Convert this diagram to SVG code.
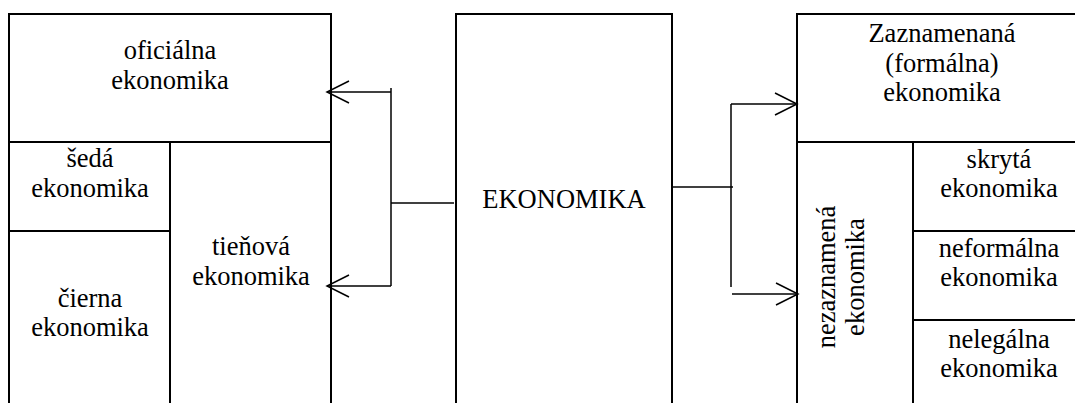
<svg xmlns="http://www.w3.org/2000/svg" width="1075" height="403" viewBox="0 0 1075 403">
<style>
.box{fill:none;stroke:#000;stroke-width:2}
.ln{fill:none;stroke:#000;stroke-width:2}
.cn{fill:none;stroke:#000;stroke-width:1.5}
text{font-family:"Liberation Serif","Times New Roman",serif;font-size:26.5px;fill:#000;text-anchor:middle}
</style>
<defs>
<marker id="arr" markerUnits="userSpaceOnUse" markerWidth="26" markerHeight="28" refX="23" refY="13" orient="auto" viewBox="0 0 26 28">
<path d="M1,2 L23,13 L1,24" fill="none" stroke="#000" stroke-width="1.5"/>
</marker>
</defs>
<rect width="1075" height="403" fill="#fff"/>
<g id="oficialna">
<path class="box" d="M9,410 V14 H331 V410"/>
<path class="ln" d="M9,142 H331"/>
<text x="170" y="59">oficiálna</text>
<text x="170" y="89">ekonomika</text>
</g>
<g id="seda">
<path class="ln" d="M9,231 H170"/>
<text x="90" y="167">šedá</text>
<text x="90" y="197">ekonomika</text>
</g>
<g id="cierna">
<text x="90" y="307">čierna</text>
<text x="90" y="336">ekonomika</text>
</g>
<g id="tienova">
<path class="ln" d="M170,142 V410"/>
<text x="251" y="255">tieňová</text>
<text x="251" y="285">ekonomika</text>
</g>
<g id="ekonomika">
<path class="box" d="M456,410 V14 H672 V410"/>
<text x="564" y="208">EKONOMIKA</text>
</g>
<g id="zaznamenana">
<path class="box" d="M797,410 V14 H1090"/>
<path class="ln" d="M797,142 H1090"/>
<text x="942" y="42">Zaznamenaná</text>
<text x="942" y="72">(formálna)</text>
<text x="942" y="101">ekonomika</text>
</g>
<g id="nezaznamenana">
<path class="ln" d="M913,142 V410"/>
<text transform="translate(835,277) rotate(-90)">nezaznamená</text>
<text transform="translate(864,277) rotate(-90)">ekonomika</text>
</g>
<g id="skryta">
<path class="ln" d="M913,231 H1090"/>
<text x="999" y="168">skrytá</text>
<text x="999" y="197">ekonomika</text>
</g>
<g id="neformalna">
<path class="ln" d="M913,320 H1090"/>
<text x="999" y="257">neformálna</text>
<text x="999" y="286">ekonomika</text>
</g>
<g id="nelegalna">
<text x="999" y="348">nelegálna</text>
<text x="999" y="377">ekonomika</text>
</g>
<g id="connectors">
<path class="cn" d="M391,88 V286"/>
<path class="cn" d="M391,203 H454"/>
<path class="cn" d="M391,92 H327" marker-end="url(#arr)"/>
<path class="cn" d="M391,286 H327" marker-end="url(#arr)"/>
<path class="cn" d="M671,187 H733"/>
<path class="cn" d="M731,104 V287"/>
<path class="cn" d="M731,104 H797" marker-end="url(#arr)"/>
<path class="cn" d="M732,294 H798" marker-end="url(#arr)"/>
</g>
</svg>
